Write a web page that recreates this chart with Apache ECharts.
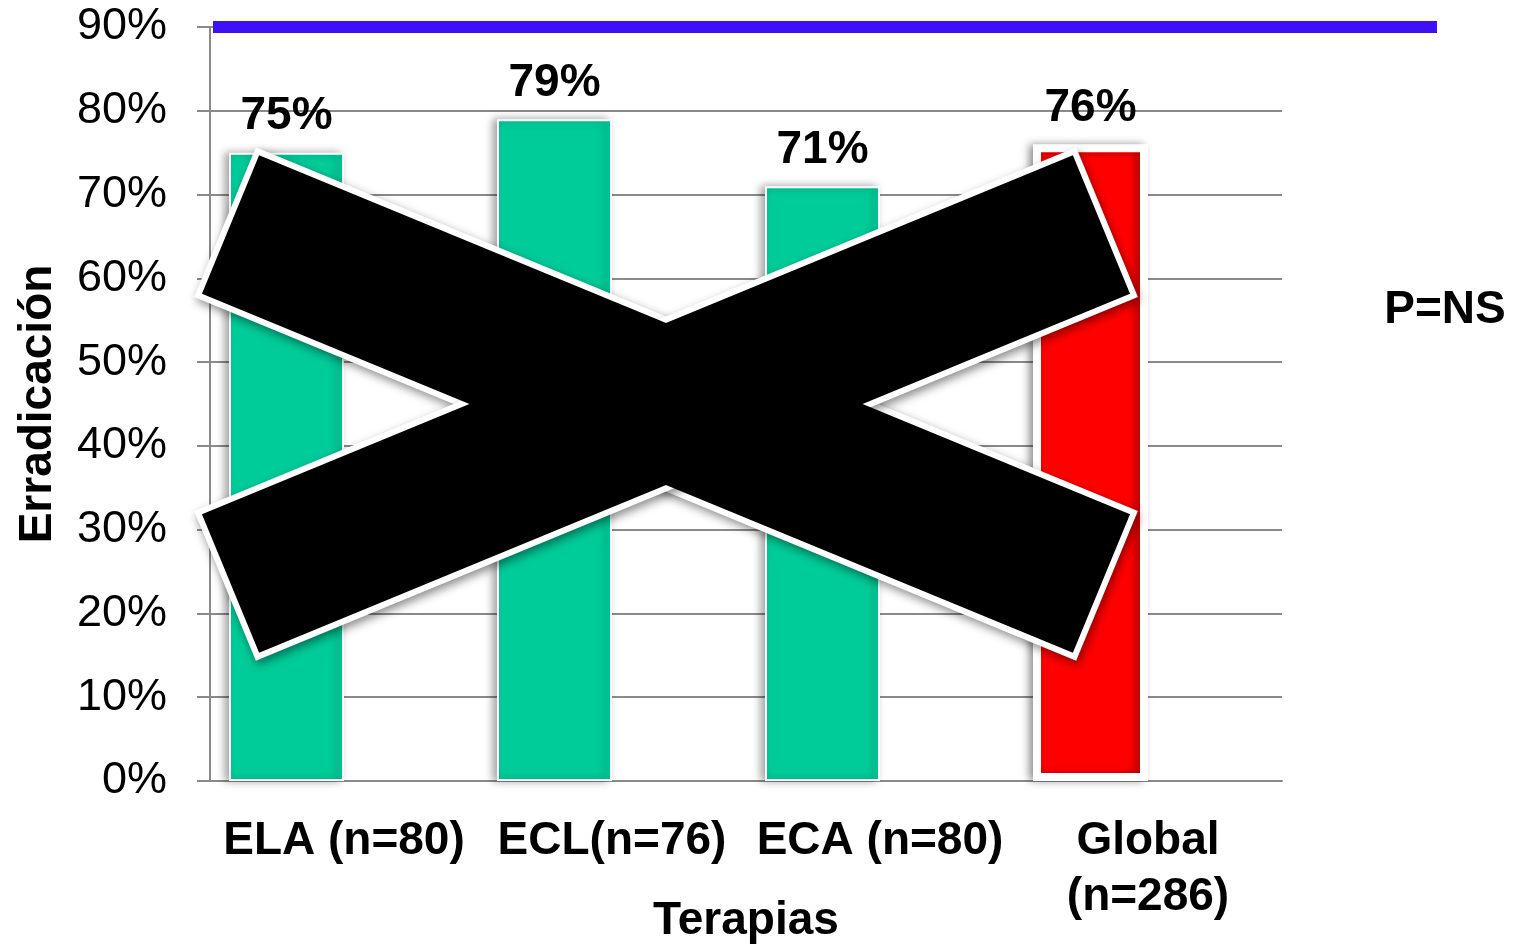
<!DOCTYPE html>
<html>
<head>
<meta charset="utf-8">
<title>Erradicación por terapia</title>
<script src="https://cdn.jsdelivr.net/npm/echarts@6/dist/echarts.min.js"></script>
<style>
  html, body { margin: 0; padding: 0; background: #ffffff; }
  #chart { width: 1514px; height: 945px; }
</style>
</head>
<body>
<div id="chart"></div>
<script>
// Eradication rate per therapy (percent)
const categories = ['ELA (n=80)', 'ECL(n=76)', 'ECA (n=80)', 'Global\n(n=286)'];
const erradicacion = [75, 79, 71, 76];
const barColors = ['#00cc99', '#00cc99', '#00cc99', '#ff0000'];
// Reference target level drawn across the plot
const objetivo = [[0, 90], [1, 90]];
const yTicks = { min: 0, max: 90, interval: 10 };

const FONT = "'Liberation Sans', Arial, Helvetica, sans-serif";
const GRID_GREY = '#8a8a8a';

const chart = echarts.init(document.getElementById('chart'), null, { renderer: 'canvas' });

// Crossing-out mark laid over the plot
const crossCenter = [666, 404];
const crossAngle = 22.4 * Math.PI / 180;
const armLength = 954;
const armWidth = 162;
const rim = 6;

function arm(rot, len, wid, fill, withShadow, z) {
  const st = { fill: fill };
  if (withShadow) {
    st.shadowBlur = 10;
    st.shadowColor = 'rgba(0,0,0,0.45)';
    st.shadowOffsetX = 2;
    st.shadowOffsetY = 4;
  }
  return {
    type: 'rect',
    x: crossCenter[0],
    y: crossCenter[1],
    rotation: rot,
    z: z,
    shape: { x: -len / 2, y: -wid / 2, width: len, height: wid },
    style: st
  };
}

const option = {
  animation: false,
  backgroundColor: '#ffffff',
  textStyle: { fontFamily: FONT },
  grid: [
    { left: 210, right: 232, top: 27, bottom: 164, outerBoundsMode: 'none', containLabel: false },
    { left: 213, right: 77, top: 27, bottom: 164, outerBoundsMode: 'none', containLabel: false }
  ],
  xAxis: [
    {
      type: 'category',
      gridIndex: 0,
      data: categories,
      name: 'Terapias',
      nameLocation: 'middle',
      nameGap: 117,
      nameMoveOverlap: false,
      nameTextStyle: { fontSize: 46, fontWeight: 'bold', color: '#000', fontFamily: FONT, lineHeight: 46 },
      axisLine: { show: true, lineStyle: { color: GRID_GREY, width: 2 } },
      axisTick: { show: false },
      axisLabel: {
        interval: 0,
        margin: 32,
        fontSize: 46,
        fontWeight: 'bold',
        color: '#000',
        fontFamily: FONT,
        lineHeight: 56
      },
      splitLine: { show: false }
    },
    {
      type: 'value',
      gridIndex: 1,
      min: 0,
      max: 1,
      show: false
    }
  ],
  yAxis: [
    {
      type: 'value',
      gridIndex: 0,
      min: yTicks.min,
      max: yTicks.max,
      interval: yTicks.interval,
      name: 'Erradicación',
      nameLocation: 'middle',
      nameRotate: 90,
      nameGap: 150,
      nameMoveOverlap: false,
      nameTextStyle: { fontSize: 46, fontWeight: 'bold', color: '#000', fontFamily: FONT, lineHeight: 44 },
      axisLine: { show: true, lineStyle: { color: GRID_GREY, width: 2 } },
      axisTick: { show: true, length: 13, lineStyle: { color: GRID_GREY, width: 2 } },
      axisLabel: {
        formatter: '{value}%',
        margin: 43,
        fontSize: 45,
        color: '#000',
        fontFamily: FONT
      },
      splitLine: { show: true, lineStyle: { color: GRID_GREY, width: 2 } }
    },
    {
      type: 'value',
      gridIndex: 1,
      min: yTicks.min,
      max: yTicks.max,
      show: false
    }
  ],
  series: [
    {
      name: 'Erradicación',
      type: 'bar',
      xAxisIndex: 0,
      yAxisIndex: 0,
      barWidth: 115,
      barGap: '0%',
      data: erradicacion.map((v, i) => {
        const isTotal = i === erradicacion.length - 1;
        return {
          value: v,
          itemStyle: {
            color: barColors[i],
            borderColor: '#ffffff',
            borderWidth: isTotal ? 8 : 2,
            shadowColor: 'rgba(0,0,0,0.35)',
            shadowBlur: 8,
            shadowOffsetX: -4,
            shadowOffsetY: 0
          }
        };
      }),
      label: {
        show: true,
        position: 'top',
        distance: 13,
        formatter: '{c}%',
        fontSize: 46,
        fontWeight: 'bold',
        color: '#000',
        fontFamily: FONT,
        lineHeight: 46
      },
      z: 3
    },
    {
      // empty companion series (keeps each bar on the left half of its slot)
      name: 'vacío',
      type: 'bar',
      xAxisIndex: 0,
      yAxisIndex: 0,
      barWidth: 115,
      data: categories.map(() => null)
    },
    {
      name: 'Objetivo',
      type: 'line',
      xAxisIndex: 1,
      yAxisIndex: 1,
      data: objetivo,
      symbol: 'none',
      lineStyle: { color: '#3d10f5', width: 12, cap: 'butt' },
      z: 4
    }
  ],
  graphic: [
    arm(-crossAngle, armLength, armWidth, '#ffffff', true, 100),
    arm(crossAngle, armLength, armWidth, '#ffffff', true, 101),
    arm(-crossAngle, armLength - 2 * rim, armWidth - 2 * rim, '#000000', false, 102),
    arm(crossAngle, armLength - 2 * rim, armWidth - 2 * rim, '#000000', false, 103),
    {
      type: 'text',
      x: 1445,
      y: 310,
      z: 100,
      style: {
        text: 'P=NS',
        fontSize: 46,
        fontWeight: 'bold',
        fontFamily: FONT,
        fill: '#000',
        align: 'center',
        verticalAlign: 'middle'
      }
    }
  ]
};

chart.setOption(option);
</script>
</body>
</html>
